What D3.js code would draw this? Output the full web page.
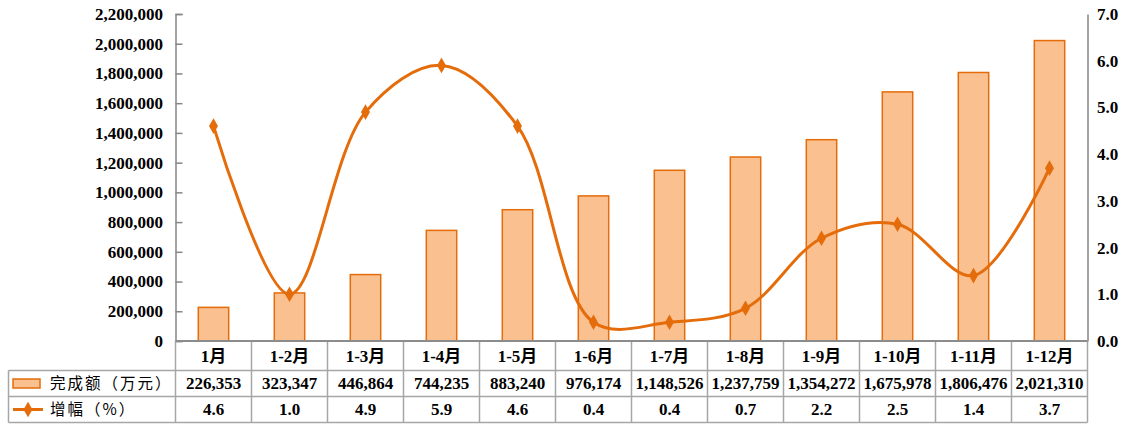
<!DOCTYPE html>
<html>
<head>
<meta charset="utf-8">
<script src="https://cdn.jsdelivr.net/npm/d3@7"></script>
<style>
  body { margin: 0; background: #fff; }
  svg { display: block; }
  text { font-family: "Liberation Serif", "Noto Sans CJK SC", serif; fill: #000; }
  .num { font-weight: bold; font-size: 17px; }
  .cjk { font-family: "Noto Sans CJK SC", sans-serif; font-size: 15.5px; }
</style>
</head>
<body>
<svg id="chart" width="1126" height="424"></svg>
<script>
var categories = ['1月', '1-2月', '1-3月', '1-4月', '1-5月', '1-6月', '1-7月', '1-8月', '1-9月', '1-10月', '1-11月', '1-12月'];
var amounts = [226353, 323347, 446864, 744235, 883240, 976174, 1148526, 1237759, 1354272, 1675978, 1806476, 2021310];
var growth = [4.6, 1.0, 4.9, 5.9, 4.6, 0.4, 0.4, 0.7, 2.2, 2.5, 1.4, 3.7];
var leftTicks = [0, 200000, 400000, 600000, 800000, 1000000, 1200000, 1400000, 1600000, 1800000, 2000000, 2200000];
var rightTicks = [0, 1, 2, 3, 4, 5, 6, 7];
var seriesNames = ['完成额（万元）', '增幅（%）'];

var ORANGE = '#E46C0A';
var BAR_FILL = '#FAC090';
var GRID = '#A6A6A6';

var plotLeft = 175.5, plotRight = 1087.5, plotTop = 14, plotBottom = 341;
var tableLeft = 8.5;
var rowLines = [341, 370.5, 396.5, 422.5];

var svg = d3.select('#chart');

var x = d3.scaleBand()
    .domain(categories)
    .range([plotLeft, plotRight])
    .paddingInner(0.6)
    .paddingOuter(0.3);
var step = x.step();

var yLeft = d3.scaleLinear().domain([0, 2200000]).range([plotBottom, plotTop]);
var yRight = d3.scaleLinear().domain([0, 7]).range([plotBottom, plotTop]);

// left axis, ticks point inward
var leftAxis = svg.append('g')
    .attr('transform', 'translate(' + plotLeft + ',0)')
    .call(d3.axisRight(yLeft).tickValues(leftTicks).tickSize(7).tickFormat(''));
leftAxis.select('.domain').attr('stroke', '#868686').attr('stroke-width', 1.5);
leftAxis.selectAll('.tick line').attr('stroke', '#868686').attr('stroke-width', 1.5);

svg.append('g').selectAll('text')
    .data(leftTicks)
    .enter().append('text')
    .attr('class', 'num')
    .attr('x', 163)
    .attr('y', function (d) { return yLeft(d); })
    .attr('dy', '0.35em')
    .attr('text-anchor', 'end')
    .text(function (d) { return d3.format(',')(d); });

// right axis, no ticks
var rightAxis = svg.append('g')
    .attr('transform', 'translate(' + plotRight + ',0)')
    .call(d3.axisRight(yRight).tickValues(rightTicks).tickSize(0).tickFormat(''));
rightAxis.select('.domain').attr('stroke', '#868686').attr('stroke-width', 1.5);

svg.append('g').selectAll('text')
    .data(rightTicks)
    .enter().append('text')
    .attr('class', 'num')
    .attr('x', 1097)
    .attr('y', function (d) { return yRight(d); })
    .attr('dy', '0.35em')
    .text(function (d) { return d3.format('.1f')(d); });

// bars
svg.append('g').selectAll('rect')
    .data(amounts)
    .enter().append('rect')
    .attr('x', function (d, i) { return x(categories[i]); })
    .attr('y', function (d) { return yLeft(d); })
    .attr('width', x.bandwidth())
    .attr('height', function (d) { return plotBottom - yLeft(d); })
    .attr('fill', BAR_FILL)
    .attr('stroke', ORANGE)
    .attr('stroke-width', 1.5);

// smoothed growth line
var cx = function (i) { return x(categories[i]) + x.bandwidth() / 2; };
var line = d3.line()
    .x(function (d, i) { return cx(i); })
    .y(function (d) { return yRight(d); })
    .curve(d3.curveCatmullRom.alpha(0.5));

svg.append('path')
    .datum(growth)
    .attr('d', line)
    .attr('fill', 'none')
    .attr('stroke', ORANGE)
    .attr('stroke-width', 3);

var diamond = d3.symbol().type(d3.symbolDiamond).size(70);
svg.append('g').selectAll('path')
    .data(growth)
    .enter().append('path')
    .attr('d', diamond)
    .attr('transform', function (d, i) { return 'translate(' + cx(i) + ',' + yRight(d) + ')'; })
    .attr('fill', ORANGE);

// data table grid
var grid = svg.append('g').attr('stroke', GRID).attr('stroke-width', 1.5);
rowLines.slice(1).forEach(function (y) {
  grid.append('line').attr('x1', tableLeft).attr('x2', plotRight).attr('y1', y).attr('y2', y);
});
grid.append('line').attr('x1', tableLeft).attr('x2', tableLeft).attr('y1', rowLines[1]).attr('y2', rowLines[3]);
categories.forEach(function (c, i) {
  var xx = plotLeft + step * i;
  grid.append('line').attr('x1', xx).attr('x2', xx).attr('y1', rowLines[0]).attr('y2', rowLines[3]);
});
grid.append('line').attr('x1', plotRight).attr('x2', plotRight).attr('y1', rowLines[0]).attr('y2', rowLines[3]);
// category axis line
svg.append('line')
    .attr('x1', plotLeft).attr('x2', plotRight).attr('y1', plotBottom).attr('y2', plotBottom)
    .attr('stroke', '#8C8C8C').attr('stroke-width', 2);

var rowMid = function (r) { return (rowLines[r] + rowLines[r + 1]) / 2; };

// table text
var cells = svg.append('g');
cells.selectAll('.cat')
    .data(categories)
    .enter().append('text')
    .attr('class', 'num cat')
    .attr('x', function (d, i) { return cx(i); })
    .attr('y', rowMid(0))
    .attr('dy', '0.35em')
    .attr('text-anchor', 'middle')
    .text(function (d) { return d; });

cells.selectAll('.amt')
    .data(amounts)
    .enter().append('text')
    .attr('class', 'num amt')
    .attr('x', function (d, i) { return cx(i); })
    .attr('y', rowMid(1))
    .attr('dy', '0.35em')
    .attr('text-anchor', 'middle')
    .text(function (d) { return d3.format(',')(d); });

cells.selectAll('.gr')
    .data(growth)
    .enter().append('text')
    .attr('class', 'num gr')
    .attr('x', function (d, i) { return cx(i); })
    .attr('y', rowMid(2))
    .attr('dy', '0.35em')
    .attr('text-anchor', 'middle')
    .text(function (d) { return d3.format('.1f')(d); });

// legend keys in table
svg.append('rect')
    .attr('x', 13).attr('y', rowMid(1) - 4.5).attr('width', 27).attr('height', 9)
    .attr('fill', BAR_FILL).attr('stroke', ORANGE).attr('stroke-width', 1.5);
svg.append('line')
    .attr('x1', 13).attr('x2', 43).attr('y1', rowMid(2)).attr('y2', rowMid(2))
    .attr('stroke', ORANGE).attr('stroke-width', 3);
svg.append('path')
    .attr('d', diamond)
    .attr('transform', 'translate(28,' + rowMid(2) + ')')
    .attr('fill', ORANGE);

svg.append('text').attr('class', 'cjk')
    .attr('x', 50).attr('y', rowMid(1)).attr('dy', '0.35em')
    .attr('letter-spacing', 2)
    .text(seriesNames[0]);
svg.append('text').attr('class', 'cjk')
    .attr('x', 50).attr('y', rowMid(2)).attr('dy', '0.35em')
    .attr('letter-spacing', 2)
    .text(seriesNames[1]);
</script>
</body>
</html>
